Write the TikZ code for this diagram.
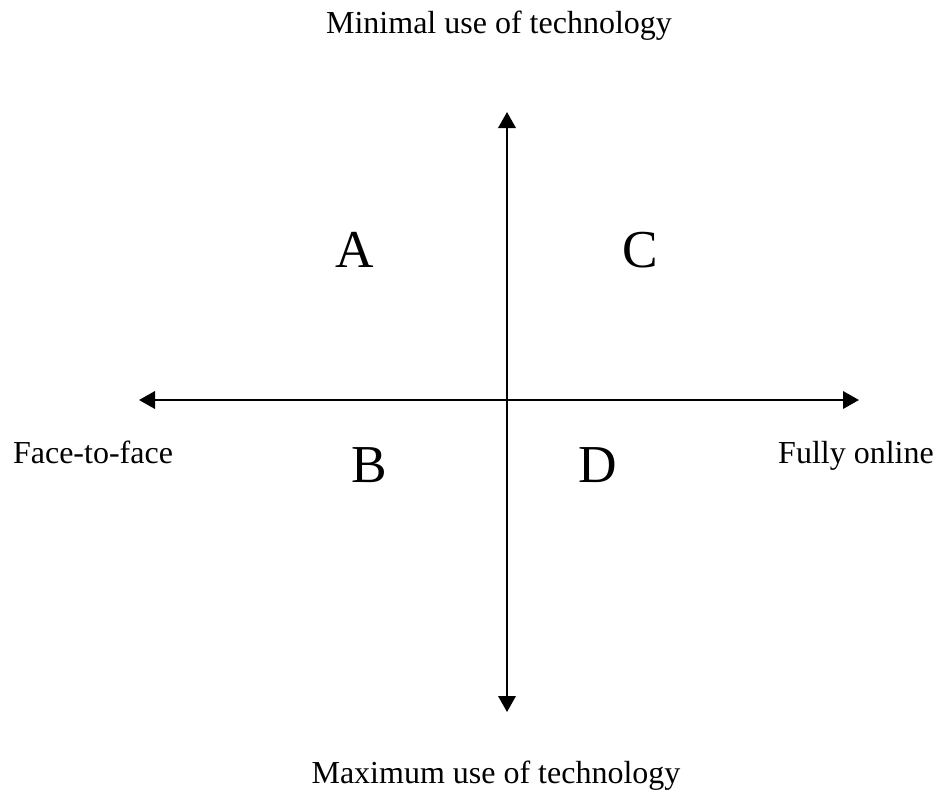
\documentclass[tikz,border=0pt]{standalone}
\usepackage{fontspec}
\setmainfont{Liberation Serif}
\usetikzlibrary{arrows.meta}
\begin{document}
\begin{tikzpicture}[x=0.75pt,y=-0.75pt,
  axis/.style={line width=1.9pt,-{Triangle[length=12pt,width=13pt]}},
  lbl/.style={anchor=base,inner sep=0pt,font=\fontsize{24}{28}\selectfont},
  quad/.style={anchor=base,inner sep=0pt,font=\fontsize{40}{46}\selectfont}]
\useasboundingbox (0,0) rectangle (941,793);
\coordinate (c) at (507,400);
\coordinate (top) at (507,112);
\coordinate (bot) at (507,712);
\coordinate (lft) at (139,400);
\coordinate (rgt) at (859,400);
\draw[axis] (c) -- (top);
\draw[axis] (c) -- (bot);
\draw[axis] (c) -- (lft);
\draw[axis] (c) -- (rgt);
\node[lbl] (min) at (499,33) {Minimal use of technology};
\node[lbl] (max) at (496,783) {Maximum use of technology};
\node[lbl] (f2f) at (93,463) {Face-to-face};
\node[lbl] (onl) at (856,463) {Fully online};
\node[quad] (A) at (355,267) {A};
\node[quad] (C) at (640,267) {C};
\node[quad] (B) at (369,482) {B};
\node[quad] (D) at (598,482) {D};
\end{tikzpicture}
\end{document}
